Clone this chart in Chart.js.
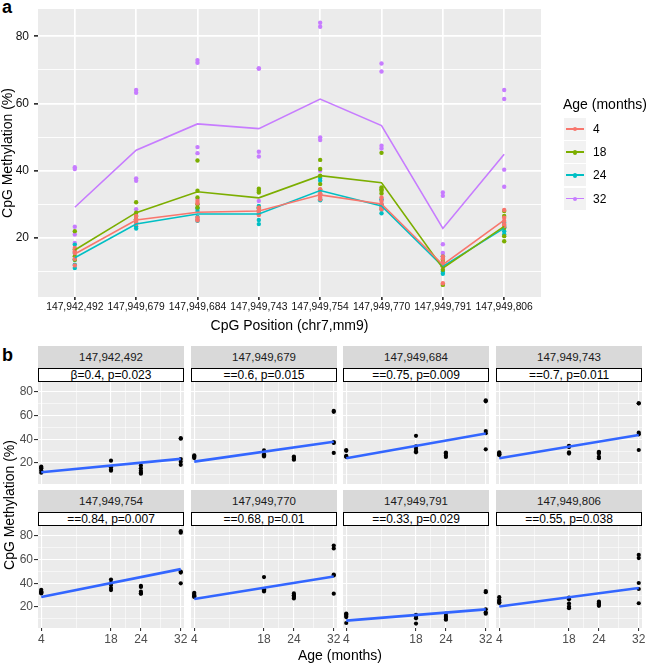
<!DOCTYPE html>
<html>
<head>
<meta charset="utf-8">
<script src="https://cdn.jsdelivr.net/npm/chart.js@4"></script>
<style>
body { margin:0; background:#fff; width:651px; height:663px; position:relative; overflow:hidden;
       font-family:"Liberation Sans", Arial, sans-serif; color:#000; }
canvas { position:absolute; }
.txt { position:absolute; white-space:nowrap; }
.strip { position:absolute; background:#D9D9D9; color:#1A1A1A; font-size:11.5px; text-align:center; }
.stat { position:absolute; background:#fff; border:1px solid #000; box-sizing:border-box; font-size:12px; text-align:center; line-height:12px; }
.key { position:absolute; width:22px; height:22px; background:#F2F2F2; }
.key .ln { position:absolute; left:2px; right:2px; top:10px; height:1.6px; }
.key .dt { position:absolute; left:9px; top:9px; width:4.4px; height:4.4px; border-radius:50%; }
</style>
</head>
<body>
<div class="txt" style="left:2px;top:-3px;font-size:18px;font-weight:bold">a</div>
<div class="txt" style="left:2px;top:345px;font-size:18px;font-weight:bold">b</div>
<canvas id="topChart" width="651" height="335" style="left:0;top:0"></canvas>
<div id="legend"></div>

<script>
// CpG sites (chr7, mm9)
const cpgSites = ["147,942,492", "147,949,679", "147,949,684", "147,949,743",
                  "147,949,754", "147,949,770", "147,949,791", "147,949,806"];
const ageGroups = [4, 18, 24, 32];
const ageColors = ["#F8766D", "#7CAE00", "#00BFC4", "#C77CFF"];

// group means per CpG (lines in panel a)
const mean4  = [15.2, 25.3, 27.6, 28.0, 32.8, 30.1, 12.0, 25.3];
const mean18 = [16.4, 27.5, 33.7, 31.9, 38.5, 36.4, 11.0, 23.4];
const mean24 = [14.1, 24.1, 27.1, 27.1, 34.1, 29.5, 11.5, 22.9];
const mean32 = [29.1, 46.1, 53.9, 52.5, 61.3, 53.4, 22.8, 44.9];

// individual samples, one row per CpG
const samples4 = [
    [17, 16, 15.5, 13.8, 11.8],
    [26.5, 25.5, 25, 24.2],
    [31, 30.3, 26, 25.5, 25.2],
    [29, 28.3, 27.5, 27, 26.8],
    [34.5, 33.3, 32.5, 32, 31.5],
    [32, 31, 30, 29, 28.5],
    [14.5, 13.8, 12.5, 11.5, 6.5],
    [28.3, 26, 25, 24, 23.5]
];
const samples18 = [
    [22, 16.5, 14.5, 13.5],
    [30.6, 27.5, 26.5, 25.5],
    [43, 34, 32, 30, 29],
    [34.6, 34, 33.5, 29, 28],
    [43.2, 40.5, 38.5, 36, 34.3],
    [45.3, 35, 34.5, 34, 33.2],
    [13.5, 12.5, 11.5, 10.5, 6],
    [28, 26.5, 23, 20.5, 19]
];
const samples24 = [
    [18, 15.5, 13.5, 12, 11],
    [25.5, 24.5, 23.4, 22.8],
    [28.8, 28, 26.2, 25.1],
    [29.5, 28.8, 28, 25.3, 24.1],
    [37.8, 37, 33, 31.5, 31.2],
    [31.5, 30, 29.5, 28.5, 27.3],
    [14.5, 12.5, 11.5, 10, 9.3],
    [24.5, 23.5, 23, 22, 21]
];
const samples32 = [
    [41, 40.5, 23.3, 21, 18.5],
    [64, 63.2, 37.7, 37, 28.5],
    [72.9, 72.1, 47, 45.2, 31.6],
    [70.4, 70.4, 45.6, 44.2, 31],
    [84, 82.8, 49.9, 49.1, 40],
    [71.9, 69.5, 47.4, 46.6, 31.3],
    [33.5, 32.5, 18.1, 15.5, 14.4],
    [64, 61.3, 40.3, 35.2, 23.2]
];

// regression line ends (at 4 and 32 months)
const fitAt4  = [12.2, 21.2, 24.0, 24.0, 28.5, 26.8, 8.5, 20.5];
const fitAt32 = [23.5, 38.0, 45.0, 43.6, 52.0, 45.8, 18.0, 36.0];
const statLabels = ["β=0.4, p=0.023", "==0.6, p=0.015", "==0.75, p=0.009", "==0.7, p=0.011",
                    "==0.84, p=0.007", "==0.68, p=0.01", "==0.33, p=0.029", "==0.55, p=0.038"];

const yTicks = [10, 20, 30, 40, 50, 60, 70, 80];
const ageMinor = [11, 21, 28];

Chart.defaults.font.family = "'Liberation Sans', Arial, sans-serif";

const samplesByAge = [samples4, samples18, samples24, samples32];
const meansByAge = [mean4, mean18, mean24, mean32];

// grey panel background like ggplot
const panelBg = {
    id: "panelBg",
    beforeDraw(chart) {
        const { ctx, chartArea: a } = chart;
        ctx.save();
        ctx.fillStyle = "#EBEBEB";
        ctx.fillRect(a.left, a.top, a.right - a.left, a.bottom - a.top);
        ctx.restore();
    }
};

// keep label overhang from shrinking the panel
function noPad(s) {
    s.paddingTop = 0; s.paddingBottom = 0; s.paddingLeft = 0; s.paddingRight = 0;
}

const isMajorY = c => c.tick && c.tick.value % 20 === 0;

// ---- panel a ----
const topSets = [];
ageGroups.forEach((age, g) => {
    topSets.push({
        data: meansByAge[g].map((v, i) => ({ x: i, y: v })),
        borderColor: ageColors[g],
        borderWidth: 1.6,
        pointRadius: 0,
        fill: false
    });
});
ageGroups.forEach((age, g) => {
    const pts = [];
    samplesByAge[g].forEach((vals, i) => vals.forEach(v => pts.push({ x: i, y: v })));
    topSets.push({
        data: pts,
        showLine: false,
        pointRadius: 2.2,
        pointBorderWidth: 0,
        pointBackgroundColor: ageColors[g]
    });
});

new Chart(document.getElementById("topChart"), {
    type: "line",
    data: { datasets: topSets },
    plugins: [panelBg],
    options: {
        responsive: false,
        animation: false,
        layout: { padding: { top: 9, right: 110, left: 0, bottom: 0 }, autoPadding: false },
        plugins: { legend: { display: false }, tooltip: { enabled: false } },
        scales: {
            x: {
                type: "linear", min: -0.6, max: 7.6, bounds: "data",
                afterBuildTicks: s => { s.ticks = cpgSites.map((_, i) => ({ value: i })); },
                afterFit: s => { s.height = 38; noPad(s); },
                ticks: { callback: v => cpgSites[v], color: "#111", font: { size: 10.3 },
                         padding: 1, maxRotation: 0, minRotation: 0, autoSkip: false },
                grid: { color: "#fff", lineWidth: 1.7, tickLength: 3, tickColor: "#333" },
                border: { display: false },
                title: { display: true, text: "CpG Position (chr7,mm9)", color: "#000",
                         font: { size: 14 }, padding: 0 }
            },
            y: {
                min: 2.4, max: 88.1, bounds: "data",
                afterBuildTicks: s => { s.ticks = yTicks.map(v => ({ value: v })); },
                afterFit: s => { s.width = 38; noPad(s); },
                ticks: { callback: v => (v % 20 === 0 ? v : ""), color: "#111", font: { size: 12 },
                         padding: 5, autoSkip: false },
                grid: { color: "#fff", lineWidth: c => (isMajorY(c) ? 1.7 : 0.9), tickLength: 4,
                        tickColor: c => (isMajorY(c) ? "#333" : "rgba(0,0,0,0)") },
                border: { display: false },
                title: { display: true, text: "CpG Methylation (%)", color: "#000",
                         font: { size: 14 }, padding: 0 }
            }
        }
    }
});

// legend
const legend = document.getElementById("legend");
let html = '<div class="txt" style="left:563px;top:96px;font-size:14px">Age (months)</div>';
ageGroups.forEach((age, g) => {
    const cy = 129 + g * 23.2;
    html += `<div class="key" style="left:564px;top:${cy - 11}px">
               <div class="ln" style="background:${ageColors[g]}"></div>
               <div class="dt" style="background:${ageColors[g]}"></div></div>
             <div class="txt" style="left:593px;top:${cy - 7}px;font-size:12px">${age}</div>`;
});
legend.innerHTML = html;

// ---- panel b ----
const panelLeft = [38, 191, 343, 496];
const panelTop = [382, 526];
const panelW = 146, panelH = 102;

cpgSites.forEach((site, k) => {
    const col = k % 4, row = Math.floor(k / 4);
    const showY = col === 0, showX = row === 1;
    const yAxisW = showY ? 38 : 0, xAxisH = showX ? 22 : 0;
    const padL = showY ? 0 : 6, padR = 8;
    const left = panelLeft[col], top = panelTop[row];

    const strip = document.createElement("div");
    strip.className = "strip";
    strip.style.cssText = `left:${left}px;top:${top - 36}px;width:${panelW}px;height:22px;line-height:22px`;
    strip.textContent = site;
    document.body.appendChild(strip);

    const stat = document.createElement("div");
    stat.className = "stat";
    stat.style.cssText = `left:${left}px;top:${top - 14}px;width:${panelW}px;height:14px`;
    stat.textContent = statLabels[k];
    document.body.appendChild(stat);

    const cv = document.createElement("canvas");
    cv.width = panelW + yAxisW + padL + padR;
    cv.height = panelH + xAxisH;
    cv.style.left = (left - yAxisW - padL) + "px";
    cv.style.top = top + "px";
    document.body.appendChild(cv);

    const pts = [];
    ageGroups.forEach((age, g) => samplesByAge[g][k].forEach(v => pts.push({ x: age, y: v })));

    new Chart(cv, {
        type: "line",
        data: {
            datasets: [
                { data: [{ x: 4, y: fitAt4[k] }, { x: 32, y: fitAt32[k] }],
                  borderColor: "#3366FF", borderWidth: 2.6, pointRadius: 0, fill: false },
                { data: pts, showLine: false, pointRadius: 2.1, pointBorderWidth: 0,
                  pointBackgroundColor: "#000" }
            ]
        },
        plugins: [panelBg],
        options: {
            responsive: false,
            animation: false,
            layout: { padding: { left: padL, right: padR, top: 0, bottom: 0 }, autoPadding: false },
            plugins: { legend: { display: false }, tooltip: { enabled: false } },
            scales: {
                x: {
                    type: "linear", min: 3.35, max: 32.65, bounds: "data",
                    afterBuildTicks: s => {
                        s.ticks = ageGroups.concat(ageMinor).sort((a, b) => a - b).map(v => ({ value: v }));
                    },
                    afterFit: s => { s.height = xAxisH; noPad(s); },
                    ticks: { display: showX, callback: v => (ageGroups.includes(v) ? v : ""),
                             color: "#4D4D4D", font: { size: 12 }, padding: 1,
                             maxRotation: 0, minRotation: 0, autoSkip: false },
                    grid: { color: "#fff",
                            lineWidth: c => (c.tick && ageGroups.includes(c.tick.value) ? 1.1 : 0.55),
                            drawTicks: showX, tickLength: 3,
                            tickColor: c => (c.tick && ageGroups.includes(c.tick.value) ? "#333" : "rgba(0,0,0,0)") },
                    border: { display: false }
                },
                y: {
                    min: 2.3, max: 88.4, bounds: "data",
                    afterBuildTicks: s => { s.ticks = yTicks.map(v => ({ value: v })); },
                    afterFit: s => { s.width = yAxisW; noPad(s); },
                    ticks: { display: showY, callback: v => (v % 20 === 0 ? v : ""),
                             color: "#4D4D4D", font: { size: 12 }, padding: 1, autoSkip: false },
                    grid: { color: "#fff", lineWidth: c => (isMajorY(c) ? 1.1 : 0.55),
                            drawTicks: showY, tickLength: 4,
                            tickColor: c => (isMajorY(c) ? "#333" : "rgba(0,0,0,0)") },
                    border: { display: false }
                }
            }
        }
    });
});

// shared axis titles for panel b
const yt = document.createElement("div");
yt.className = "txt";
yt.style.cssText = "left:-91px;top:497px;width:200px;text-align:center;font-size:14px;transform:rotate(-90deg)";
yt.textContent = "CpG Methylation (%)";
document.body.appendChild(yt);

const xt = document.createElement("div");
xt.className = "txt";
xt.style.cssText = "left:240px;top:647px;width:200px;text-align:center;font-size:14px";
xt.textContent = "Age (months)";
document.body.appendChild(xt);
</script>
</body>
</html>
